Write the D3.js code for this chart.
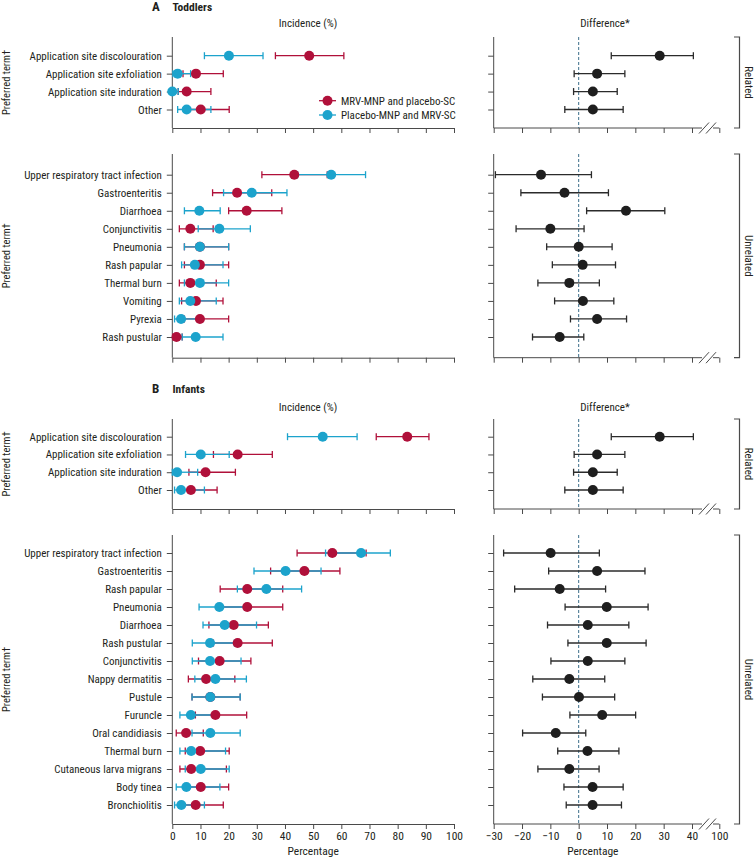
<!DOCTYPE html>
<html>
<head>
<meta charset="utf-8">
<script src="https://cdn.jsdelivr.net/npm/d3@7"></script>
<style>
  body { margin: 0; background: #fff; }
  svg text { font-family: "Liberation Sans Narrow", "Roboto Condensed", "Arial Narrow", sans-serif; fill: #231f20; }
</style>
</head>
<body>
<svg id="chart" width="755" height="858"></svg>
<script>
// terms per panel
const toddlersRelated = ['Application site discolouration', 'Application site exfoliation', 'Application site induration', 'Other'];
const toddlersUnrelated = ['Upper respiratory tract infection', 'Gastroenteritis', 'Diarrhoea', 'Conjunctivitis', 'Pneumonia',
    'Rash papular', 'Thermal burn', 'Vomiting', 'Pyrexia', 'Rash pustular'];
const infantsRelated = ['Application site discolouration', 'Application site exfoliation', 'Application site induration', 'Other'];
const infantsUnrelated = ['Upper respiratory tract infection', 'Gastroenteritis', 'Rash papular', 'Pneumonia', 'Diarrhoea',
    'Rash pustular', 'Conjunctivitis', 'Nappy dermatitis', 'Pustule', 'Furuncle', 'Oral candidiasis', 'Thermal burn',
    'Cutaneous larva migrans', 'Body tinea', 'Bronchiolitis'];

// [estimate, lower, upper] incidence %, MRV-MNP and placebo-SC
const toddlersRelatedMrv = [[48.6, 36.6, 60.9], [8.4, 3.8, 18.1], [5.1, 2.1, 13.7], [10.1, 4.5, 20.2]];
const toddlersRelatedPlacebo = [[20.1, 11.4, 32.2], [1.9, 0.2, 6.5], [0, 0, 2.1], [5.1, 1.9, 13.7]];
const toddlersUnrelatedMrv = [[43.3, 31.8, 55.0], [23.0, 14.3, 35.3], [26.4, 20.0, 38.9], [6.4, 2.5, 14.5], [9.8, 4.3, 20.0],
    [9.8, 4.3, 20.0], [6.4, 2.5, 15.6], [8.4, 3.3, 18.0], [9.8, 4.3, 20.0], [1.5, 0.2, 3.5]];
const toddlersUnrelatedPlacebo = [[56.4, 44.5, 68.6], [28.2, 18.2, 40.7], [9.6, 4.3, 17.0], [16.7, 9.2, 27.7], [9.8, 4.3, 20.0],
    [8.0, 3.3, 18.0], [9.8, 4.3, 20.0], [6.4, 2.5, 15.6], [3.1, 0.8, 10.5], [8.3, 3.5, 18.0]];
const infantsRelatedMrv = [[83.4, 72.4, 91.1], [23.2, 14.6, 35.5], [11.8, 5.9, 22.4], [6.6, 2.5, 15.9]];
const infantsRelatedPlacebo = [[53.4, 40.9, 65.6], [10.1, 4.7, 20.2], [1.7, 0, 9.0], [3.1, 0.8, 11.4]];
const infantsUnrelatedMrv = [[56.8, 44.3, 68.8], [46.9, 34.9, 59.5], [26.6, 17.0, 39.2], [26.6, 17.0, 39.2], [21.8, 13.0, 34.1],
    [23.2, 14.6, 35.5], [16.8, 9.3, 27.9], [12.0, 5.7, 22.2], [13.5, 7.0, 24.1], [15.3, 8.2, 26.4], [4.9, 1.4, 11.0],
    [9.9, 4.6, 20.2], [6.7, 2.7, 19.2], [10.1, 4.6, 20.0], [8.3, 3.8, 18.1]];
const infantsUnrelatedPlacebo = [[67.0, 54.4, 77.4], [40.2, 29.0, 52.8], [33.4, 23.1, 45.9], [16.7, 9.5, 26.0], [18.6, 10.9, 29.9],
    [13.4, 7.1, 22.0], [13.4, 7.1, 24.4], [15.3, 8.0, 26.3], [13.5, 7.0, 24.1], [6.6, 2.7, 15.0], [13.5, 7.0, 24.1],
    [6.7, 2.7, 18.9], [10.1, 4.6, 20.2], [5.0, 1.4, 16.9], [3.2, 0.8, 11.4]];

// difference [estimate, lower, upper]
const toddlersRelatedDiff = [[28.6, 11.5, 43.0], [6.5, -1.6, 16.3], [5.0, -1.8, 13.6], [5.0, -4.9, 15.7]];
const toddlersUnrelatedDiff = [[-13.3, -29.4, 4.5], [-5.0, -20.4, 10.5], [16.7, 2.8, 30.4], [-10.0, -22.1, 1.9], [0, -11.3, 11.8],
    [1.4, -9.3, 13.0], [-3.3, -14.4, 7.3], [1.5, -8.5, 12.4], [6.5, -2.9, 16.9], [-6.7, -16.3, 1.8]];
const infantsRelatedDiff = [[28.6, 11.5, 43.0], [6.5, -1.6, 16.3], [5.0, -1.8, 13.6], [5.0, -4.9, 15.7]];
const infantsUnrelatedDiff = [[-9.9, -26.5, 7.3], [6.5, -10.6, 23.4], [-6.7, -22.6, 9.5], [9.9, -4.8, 24.5], [3.2, -11.0, 17.7],
    [9.9, -3.8, 23.8], [3.2, -9.8, 16.3], [-3.3, -16.2, 9.2], [0.1, -12.8, 12.7], [8.3, -3.1, 20.1], [-8.1, -19.8, 2.5],
    [3.1, -7.4, 14.2], [-3.3, -14.4, 7.2], [4.9, -5.2, 15.7], [4.9, -4.4, 15.1]];

const incidenceTicks = [0, 10, 20, 30, 40, 50, 60, 70, 80, 90, 100];
const diffTicks = [-30, -20, -10, 0, 10, 20, 30, 40, 100];
const seriesNames = ['MRV-MNP and placebo-SC', 'Placebo-MNP and MRV-SC'];

const RED = '#b0103a', CYAN = '#1ca3cc', AX = '#4a4a4a';

const svg = d3.select('#chart');
const xInc = d3.scaleLinear().domain([0, 100]).range([172.3, 454]);
const xDiff = d3.scaleLinear().domain([-30, 40, 100]).range([493.7, 692, 719.3]);

const panels = [
    {terms: toddlersRelated, mrv: toddlersRelatedMrv, pla: toddlersRelatedPlacebo, diff: toddlersRelatedDiff,
        top: 37, bottom: 128, first: 55.7, last: 109.5, group: 'Related'},
    {terms: toddlersUnrelated, mrv: toddlersUnrelatedMrv, pla: toddlersUnrelatedPlacebo, diff: toddlersUnrelatedDiff,
        top: 154, bottom: 357.7, first: 174.7, last: 337, group: 'Unrelated'},
    {terms: infantsRelated, mrv: infantsRelatedMrv, pla: infantsRelatedPlacebo, diff: infantsRelatedDiff,
        top: 419, bottom: 509, first: 436.7, last: 490, group: 'Related'},
    {terms: infantsUnrelated, mrv: infantsUnrelatedMrv, pla: infantsUnrelatedPlacebo, diff: infantsUnrelatedDiff,
        top: 535, bottom: 824, first: 553, last: 805, group: 'Unrelated', labels: true}
];

function errorBars(g, data, x, y, color) {
    const row = g.selectAll(null).data(data).join('g');
    row.append('line')
        .attr('x1', d => x(d.v[1])).attr('x2', d => x(d.v[2]))
        .attr('y1', d => y(d.t)).attr('y2', d => y(d.t))
        .attr('stroke', color).attr('stroke-width', 1.3);
    [1, 2].forEach(i => row.append('line')
        .attr('x1', d => x(d.v[i])).attr('x2', d => x(d.v[i]))
        .attr('y1', d => y(d.t) - 3.5).attr('y2', d => y(d.t) + 3.5)
        .attr('stroke', color).attr('stroke-width', 1.3));
    return row;
}

panels.forEach(p => {
    const y = d3.scalePoint().domain(p.terms).range([p.first, p.last]);
    const g = svg.append('g');

    // left y axis
    g.append('g').attr('transform', `translate(${xInc(0)},0)`)
        .call(d3.axisLeft(y).tickSize(5.5).tickPadding(5))
        .call(a => a.select('.domain').attr('d', `M0,${p.top}V${p.bottom}`))
        .call(a => a.selectAll('line').attr('stroke', AX))
        .call(a => a.selectAll('path').attr('stroke', AX))
        .call(a => a.selectAll('text').attr('font-size', 11).attr('fill', '#231f20').attr('font-family', null));

    // left x axis
    const xa = g.append('g').attr('transform', `translate(0,${p.bottom})`)
        .call(d3.axisBottom(xInc).tickValues(incidenceTicks).tickSize(5).tickSizeOuter(0).tickPadding(3))
        .call(a => a.selectAll('line,path').attr('stroke', AX))
        .call(a => a.selectAll('text').attr('font-size', 11.5).attr('fill', '#231f20').attr('font-family', null));
    if (!p.labels) xa.selectAll('text').remove();

    // incidence bars: red first, cyan on top
    const redData = p.terms.map((t, i) => ({t, v: p.mrv[i]}));
    const cyanData = p.terms.map((t, i) => ({t, v: p.pla[i]}));
    errorBars(g, redData, xInc, y, RED);
    errorBars(g, cyanData, xInc, y, CYAN);
    g.selectAll(null).data(redData).join('circle')
        .attr('cx', d => xInc(d.v[0])).attr('cy', d => y(d.t)).attr('r', 5).attr('fill', RED);
    g.selectAll(null).data(cyanData).join('circle')
        .attr('cx', d => xInc(d.v[0])).attr('cy', d => y(d.t)).attr('r', 5).attr('fill', CYAN);

    // preferred term label
    svg.append('text')
        .attr('transform', `translate(10,${(p.top + p.bottom) / 2}) rotate(-90)`)
        .attr('text-anchor', 'middle').attr('font-size', 10.5)
        .text('Preferred term\u2020');

    // right panel
    const rg = svg.append('g');
    rg.append('g').attr('transform', `translate(${xDiff(-30)},0)`)
        .call(d3.axisLeft(y).tickSize(5.5).tickFormat(''))
        .call(a => a.select('.domain').attr('d', `M0,${p.top}V${p.bottom}`))
        .call(a => a.selectAll('line,path').attr('stroke', AX));

    const ra = rg.append('g').attr('transform', `translate(0,${p.bottom})`)
        .call(d3.axisBottom(xDiff).tickValues(diffTicks).tickSize(5).tickSizeOuter(0).tickPadding(3)
            .tickFormat(d => d < 0 ? '\u2212' + Math.abs(d) : d))
        .call(a => a.selectAll('line').attr('stroke', AX))
        .call(a => a.selectAll('text').attr('font-size', 11.5).attr('fill', '#231f20').attr('font-family', null));
    ra.select('.domain').attr('stroke', AX)
        .attr('d', `M${xDiff(-30)},0H${xDiff(40) + 10}M${xDiff(40) + 21},0H${xDiff(100)}`);
    [0, 7].forEach(o => ra.append('line')
        .attr('x1', xDiff(40) + 7 + o).attr('y1', 5.5)
        .attr('x2', xDiff(40) + 17 + o).attr('y2', -5.5)
        .attr('stroke', AX).attr('stroke-width', 1));
    if (!p.labels) ra.selectAll('.tick text').remove();

    // zero line
    rg.append('line')
        .attr('x1', xDiff(0)).attr('x2', xDiff(0))
        .attr('y1', p.top).attr('y2', p.bottom)
        .attr('stroke', '#3d6e8a').attr('stroke-width', 1).attr('stroke-dasharray', '3,2');

    const diffData = p.terms.map((t, i) => ({t, v: p.diff[i]}));
    errorBars(rg, diffData, xDiff, y, '#2b2b2b');
    rg.selectAll(null).data(diffData).join('circle')
        .attr('cx', d => xDiff(d.v[0])).attr('cy', d => y(d.t)).attr('r', 5).attr('fill', '#1e1e1e');

    // bracket
    rg.append('path')
        .attr('d', `M734,${p.top}H739.5V${p.bottom}H734`)
        .attr('fill', 'none').attr('stroke', AX).attr('stroke-width', 1.2);
    rg.append('text')
        .attr('transform', `translate(745,${(p.top + p.bottom) / 2}) rotate(90)`)
        .attr('text-anchor', 'middle').attr('font-size', 11)
        .text(p.group);
});

// headings
[{y: 11, letter: 'A', name: 'Toddlers', sub: 27}, {y: 393, letter: 'B', name: 'Infants', sub: 411}].forEach(h => {
    svg.append('text').attr('x', 152).attr('y', h.y).attr('font-size', 13).attr('font-weight', 'bold').text(h.letter);
    svg.append('text').attr('x', 172.5).attr('y', h.y).attr('font-size', 11.5).attr('font-weight', 'bold').text(h.name);
    svg.append('text').attr('x', 308).attr('y', h.sub).attr('text-anchor', 'middle').attr('font-size', 11).text('Incidence (%)');
    svg.append('text').attr('x', 605).attr('y', h.sub).attr('text-anchor', 'middle').attr('font-size', 11).text('Difference*');
});

// axis titles
svg.append('text').attr('x', xInc(50)).attr('y', 855).attr('text-anchor', 'middle').attr('font-size', 11.5).text('Percentage');
svg.append('text').attr('x', xDiff(5)).attr('y', 855).attr('text-anchor', 'middle').attr('font-size', 11.5).text('Percentage');

// legend
const legend = svg.append('g').selectAll(null).data(seriesNames).join('g')
    .attr('transform', (d, i) => `translate(319,${100.7 + i * 14.3})`);
legend.append('line').attr('x1', 0).attr('x2', 17)
    .attr('stroke', (d, i) => i ? CYAN : RED).attr('stroke-width', 1.3);
legend.append('circle').attr('cx', 8.5).attr('r', 5).attr('fill', (d, i) => i ? CYAN : RED);
legend.append('text').attr('x', 22).attr('y', 4).attr('font-size', 11).text(d => d);
</script>
</body>
</html>
